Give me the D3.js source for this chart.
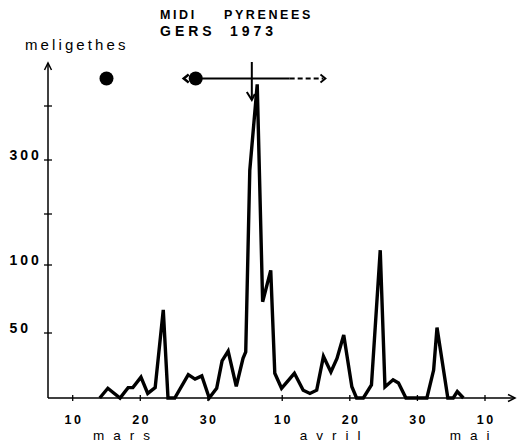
<!DOCTYPE html>
<html lang="fr">

<head>
    <meta charset="UTF-8">
    <title>meligethes - Gers 1973</title>
    <style>
        body { margin: 0; background: #fff; }
        text { font-family: "Liberation Sans", Arial, sans-serif; fill: #000; }
    </style>
</head>

<body>
    <script src="https://d3js.org/d3.v7.min.js"></script>
    <script>
        // jours comptés depuis le 1er mars (10 avril = 41, 10 mai = 71)
        const days = [14.0, 15.2, 17.0, 18.2, 18.9, 20.1, 21.1, 22.2, 23.4, 24.1,
            25.1, 27.1, 28.1, 29.1, 30.2, 31.3, 32.1, 33.0, 34.2, 35.2,
            35.6, 36.2, 37.3, 38.1, 39.3, 39.9, 40.9, 42.8, 44.1, 45.1,
            46.1, 47.1, 48.2, 49.1, 50.1, 51.3, 52.0, 53.0, 54.2, 55.5,
            56.2, 57.4, 58.2, 59.3, 62.4, 63.4, 63.9, 65.5, 66.3, 66.9, 67.8];
        const counts = [0, 7.5, 0, 8, 8, 16, 3.5, 8, 67, 0,
            0, 18, 14.5, 17, 0, 7.5, 28.5, 36, 9, 30.5,
            35.5, 281, 440, 73, 96, 19, 7.5, 19, 6, 3.5,
            6, 32, 20, 30.5, 48.5, 8.7, 0, 0, 10, 129,
            8.5, 14, 11.5, 0, 0, 21.5, 54, 0, 0, 5, 0];

        const xTickDays = [10, 20, 30, 41, 51, 61, 71];
        const xTickLabels = ['10', '20', '30', '10', '20', '30', '10'];
        const months = ['mars', 'avril', 'mai'];
        const monthDays = [13, 43.6, 65.8];

        const yTicks = [50, 100, 200, 300, 400];
        const yTickLabels = ['50', '100', '', '300', ''];

        // repères en haut : points (jours) et flèche
        const dotDays = [15.0, 28.2];
        const spanSolid = [28.2, 42.1];
        const spanDashed = [42.1, 47.4];
        const arrowDay = 36.5;

        const W = 519, H = 441;
        const svg = d3.select('body').append('svg')
            .attr('width', W)
            .attr('height', H);

        const x0 = 48, y0 = 398;
        const x = d3.scaleLinear().domain([10, 71]).range([72.7, 485]);
        // échelle dessinée à la main : linéaire par morceaux
        const y = d3.scaleLinear()
            .domain([0, 50, 100, 200, 300, 400])
            .range([y0, 333, 265, 214, 160, 106]);

        const ink = '#000';

        // axes
        svg.append('line').attr('x1', x0).attr('x2', x0).attr('y1', y0).attr('y2', 63)
            .attr('stroke', ink).attr('stroke-width', 1.5);
        svg.append('path').attr('d', `M${x0 - 3.5},70 L${x0},63 L${x0 + 3.5},70`)
            .attr('fill', 'none').attr('stroke', ink).attr('stroke-width', 1.5);
        svg.append('line').attr('x1', x0).attr('x2', 515).attr('y1', y0).attr('y2', y0)
            .attr('stroke', ink).attr('stroke-width', 1.5);
        svg.append('path').attr('d', `M508,${y0 - 3.5} L515,${y0} L508,${y0 + 3.5}`)
            .attr('fill', 'none').attr('stroke', ink).attr('stroke-width', 1.5);

        // graduations Y
        svg.selectAll('.ytick').data(yTicks).enter().append('line')
            .attr('class', 'ytick')
            .attr('x1', x0 - 4).attr('x2', x0 + 4)
            .attr('y1', d => y(d)).attr('y2', d => y(d))
            .attr('stroke', ink).attr('stroke-width', 1.3);
        svg.selectAll('.ylab').data(yTicks).enter().append('text')
            .attr('class', 'ylab')
            .attr('x', 9.5).attr('y', d => y(d))
            .style('font-size', '14px').style('font-weight', 'bold')
            .style('letter-spacing', '3px')
            .text((d, i) => yTickLabels[i]);

        // graduations X
        svg.selectAll('.xtick').data(xTickDays).enter().append('line')
            .attr('class', 'xtick')
            .attr('x1', d => x(d)).attr('x2', d => x(d))
            .attr('y1', y0 - 3).attr('y2', y0 + 3)
            .attr('stroke', ink).attr('stroke-width', 1.3);
        svg.selectAll('.xlab').data(xTickDays).enter().append('text')
            .attr('class', 'xlab')
            .attr('x', d => x(d) + 1.2).attr('y', 423.5)
            .attr('text-anchor', 'middle')
            .style('font-size', '12.5px').style('font-weight', 'bold')
            .style('letter-spacing', '2.4px')
            .text((d, i) => xTickLabels[i]);
        svg.selectAll('.month').data(months).enter().append('text')
            .attr('class', 'month')
            .attr('x', (d, i) => x(monthDays[i])).attr('y', 439.5)
            .style('font-size', '13.5px')
            .style('letter-spacing', '9px')
            .text(d => d);

        // titres
        svg.append('text').attr('x', 25).attr('y', 50)
            .style('font-size', '15px').style('letter-spacing', '3.1px')
            .text('meligethes');
        const t1 = svg.append('text').attr('y', 19)
            .style('font-size', '12.5px').style('font-weight', 'bold').style('letter-spacing', '2.6px');
        t1.append('tspan').attr('x', 160).text('MIDI');
        t1.append('tspan').attr('x', 224).text('PYRENEES');
        const t2 = svg.append('text').attr('y', 36)
            .style('font-size', '14px').style('font-weight', 'bold').style('letter-spacing', '4px');
        t2.append('tspan').attr('x', 160).text('GERS');
        t2.append('tspan').attr('x', 230).text('1973');

        // repères
        const ay = 78.5;
        svg.selectAll('.dot').data(dotDays).enter().append('circle')
            .attr('class', 'dot')
            .attr('cx', d => x(d)).attr('cy', ay).attr('r', 7)
            .attr('fill', ink);
        const xd = x(dotDays[1]);
        svg.append('path').attr('d', `M${xd - 7},${ay - 4} L${xd - 12},${ay} L${xd - 7},${ay + 4}`)
            .attr('fill', 'none').attr('stroke', ink).attr('stroke-width', 2.5);
        svg.append('line').attr('x1', x(spanSolid[0])).attr('x2', x(spanSolid[1]))
            .attr('y1', ay).attr('y2', ay).attr('stroke', ink).attr('stroke-width', 2);
        svg.append('line').attr('x1', x(spanDashed[0])).attr('x2', x(spanDashed[1]) - 2)
            .attr('y1', ay).attr('y2', ay).attr('stroke', ink).attr('stroke-width', 2)
            .attr('stroke-dasharray', '5,3');
        const xe = x(spanDashed[1]);
        svg.append('path').attr('d', `M${xe - 5},${ay - 4} L${xe},${ay} L${xe - 5},${ay + 4}`)
            .attr('fill', 'none').attr('stroke', ink).attr('stroke-width', 1.8);
        const xa = x(arrowDay);
        svg.append('line').attr('x1', xa).attr('x2', xa).attr('y1', 62).attr('y2', 100)
            .attr('stroke', ink).attr('stroke-width', 2);
        svg.append('path').attr('d', `M${xa - 5},${92} L${xa},${100} L${xa + 3},${94}`)
            .attr('fill', 'none').attr('stroke', ink).attr('stroke-width', 2);

        // courbe des captures
        const line = d3.line()
            .x((d, i) => x(days[i]))
            .y(d => y(d));
        svg.append('path')
            .datum(counts)
            .attr('d', line)
            .attr('fill', 'none')
            .attr('stroke', ink)
            .attr('stroke-width', 3.4)
            .attr('stroke-linejoin', 'miter')
            .attr('stroke-miterlimit', 4);
    </script>
</body>

</html>
